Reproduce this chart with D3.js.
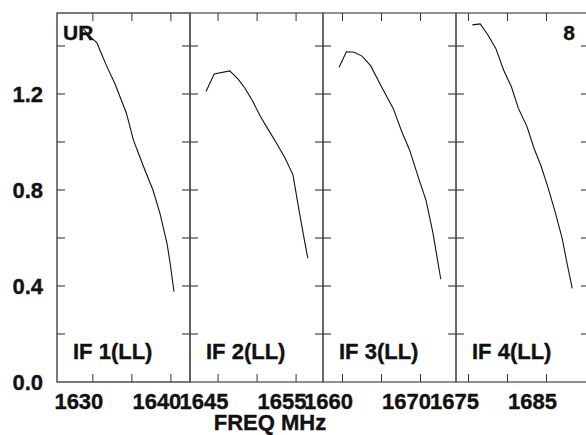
<!DOCTYPE html>
<html>
<head>
<meta charset="utf-8">
<script src="https://cdn.jsdelivr.net/npm/d3@7"></script>
<style>
  body { margin: 0; background: #fff; }
  svg { display: block; }
  text { font-family: "Liberation Sans", Arial, sans-serif; font-weight: bold; fill: #111; stroke: #111; stroke-width: 0.35px; }
</style>
</head>
<body>
<div id="chart"></div>
<script>
// frequency channels (MHz) and amplitudes read per IF panel
const freq1 = [1628.8, 1629.6, 1630.5, 1630.9, 1631.8, 1632.8, 1634.3, 1635.2, 1636.5, 1637.7, 1638.6, 1639.5, 1639.9, 1640.4]
const amp1 = [1.47, 1.44, 1.414, 1.383, 1.314, 1.245, 1.120, 1.008, 0.897, 0.800, 0.703, 0.578, 0.496, 0.376]
const freq2 = [1643.45, 1644.5, 1646.5, 1647.6, 1648.45, 1649.4, 1650.4, 1651.2, 1652.5, 1653.6, 1654.6, 1655.3, 1655.9, 1656.5]
const amp2 = [1.210, 1.283, 1.296, 1.261, 1.224, 1.172, 1.108, 1.064, 0.995, 0.932, 0.863, 0.730, 0.620, 0.516]
const freq3 = [1659.55, 1660.5, 1661.5, 1662.5, 1663.6, 1665.0, 1666.5, 1667.6, 1668.6, 1669.7, 1670.7, 1671.6, 1672.6]
const amp3 = [1.310, 1.376, 1.374, 1.358, 1.318, 1.230, 1.140, 1.043, 0.967, 0.855, 0.758, 0.620, 0.428]
const freq4 = [1675.5, 1676.5, 1677.5, 1678.5, 1679.5, 1680.5, 1681.4, 1682.5, 1683.4, 1684.3, 1685.2, 1686.1, 1687.0, 1687.6, 1688.3]
const amp4 = [1.488, 1.492, 1.446, 1.390, 1.300, 1.230, 1.140, 1.064, 0.974, 0.90, 0.81, 0.71, 0.60, 0.50, 0.39]

const panelNames = ["IF 1(LL)", "IF 2(LL)", "IF 3(LL)", "IF 4(LL)"]
const panelDomains = [[1625.4, 1642.45], [1641.4, 1658.45], [1657.5, 1674.55], [1673.4, 1690.45]]
const xTicks = [[1630, 1635, 1640], [1645, 1650, 1655], [1660, 1665, 1670], [1675, 1680, 1685]]
const xLabels = [[1630, 1640], [1645, 1655], [1660, 1670], [1675, 1685]]
const yTicks = [0.2, 0.4, 0.6, 0.8, 1.0, 1.2, 1.4]
const yLabels = [0.0, 0.4, 0.8, 1.2]

const series = [[freq1, amp1], [freq2, amp2], [freq3, amp3], [freq4, amp4]]

const width = 586, height = 435
const plotLeft = 57, plotTop = 13, plotBottom = 382
const panelW = 133
const tickLen = 8

const svg = d3.select("#chart").append("svg")
  .attr("width", width)
  .attr("height", height)

const y = d3.scaleLinear()
  .domain([0, 1.5375])
  .range([plotBottom, plotTop])

// y tick labels
svg.append("g")
  .selectAll("text")
  .data(yLabels)
  .join("text")
    .attr("x", 43)
    .attr("y", d => y(d))
    .attr("dy", "0.36em")
    .attr("text-anchor", "end")
    .style("font-size", "22px")
    .text(d => d.toFixed(1))

series.forEach(([fx, av], i) => {
  const x0 = plotLeft + i * panelW
  const x = d3.scaleLinear()
    .domain(panelDomains[i])
    .range([x0, x0 + panelW])
  const g = svg.append("g")

  g.append("rect")
    .attr("x", x0)
    .attr("y", plotTop)
    .attr("width", panelW)
    .attr("height", plotBottom - plotTop)
    .attr("fill", "none")
    .attr("stroke", i == 0 ? "#333" : "#555")
    .attr("stroke-width", 1.3)

  // y ticks, inside on both sides
  g.selectAll(".yl")
    .data(yTicks)
    .join("line")
      .attr("class", "yl")
      .attr("x1", x0).attr("x2", x0 + tickLen)
      .attr("y1", d => y(d)).attr("y2", d => y(d))
      .attr("stroke", "#222")
  g.selectAll(".yr")
    .data(yTicks)
    .join("line")
      .attr("class", "yr")
      .attr("x1", x0 + panelW - tickLen).attr("x2", x0 + panelW)
      .attr("y1", d => y(d)).attr("y2", d => y(d))
      .attr("stroke", "#222")

  // x ticks top and bottom
  g.selectAll(".xb")
    .data(xTicks[i])
    .join("line")
      .attr("class", "xb")
      .attr("x1", d => x(d)).attr("x2", d => x(d))
      .attr("y1", plotBottom).attr("y2", plotBottom - tickLen)
      .attr("stroke", "#333")
  g.selectAll(".xt")
    .data(xTicks[i])
    .join("line")
      .attr("class", "xt")
      .attr("x1", d => x(d)).attr("x2", d => x(d))
      .attr("y1", plotTop).attr("y2", plotTop + tickLen)
      .attr("stroke", "#333")

  g.selectAll(".xlab")
    .data(xLabels[i])
    .join("text")
      .attr("class", "xlab")
      .attr("x", d => x(d) - 14)
      .attr("y", 409)
      .attr("text-anchor", "middle")
      .style("font-size", "22px")
      .text(d => d)

  const line = d3.line()
    .x(d => x(d[0]))
    .y(d => y(d[1]))
  g.append("path")
    .attr("d", line(d3.zip(fx, av)))
    .attr("fill", "none")
    .attr("stroke", "#111")
    .attr("stroke-width", 1.1)

  g.append("text")
    .attr("x", x0 + 16)
    .attr("y", 359)
    .style("font-size", "22px")
    .text(panelNames[i])
})

svg.append("text")
  .attr("x", 63)
  .attr("y", 40)
  .style("font-size", "21px")
  .text("UR")

svg.append("text")
  .attr("x", 575)
  .attr("y", 40)
  .attr("text-anchor", "end")
  .style("font-size", "21px")
  .text("8")

svg.append("text")
  .attr("x", 270)
  .attr("y", 430)
  .attr("text-anchor", "middle")
  .style("font-size", "22px")
  .text("FREQ MHz")
</script>
</body>
</html>
